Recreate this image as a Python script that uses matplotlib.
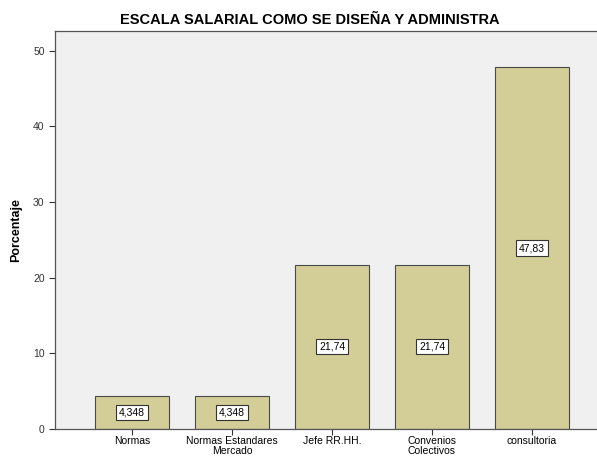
import matplotlib
matplotlib.use("Agg")
import matplotlib.pyplot as plt

plt.rcParams['font.family'] = ['Liberation Sans', 'DejaVu Sans']

categorias = ["Normas", "Normas Estandares\nMercado", "Jefe RR.HH.", "Convenios\nColectivos", "consultoria"]
porcentajes = [4.348, 4.348, 21.74, 21.74, 47.83]
etiquetas = ["4,348", "4,348", "21,74", "21,74", "47,83"]

fig = plt.figure(figsize=(5.97, 4.57), dpi=100)
ax = fig.add_axes([55/597, 1-429/457, (597-55)/597, (429-31)/457])
ax.set_facecolor('#f0f0f0')

x = list(range(len(categorias)))
ax.bar(x, porcentajes, width=0.74, color='#d3ce97', edgecolor='#4a4a4a', linewidth=0.8, zorder=2)

for xi, v, t in zip(x, porcentajes, etiquetas):
    ax.text(xi, v/2, t, ha='center', va='center', fontsize=7.5, zorder=3,
            bbox=dict(boxstyle='square,pad=0.25', fc='white', ec='#333333', lw=0.8))

ax.set_xlim(-0.77, 4.65)
ax.set_ylim(0, 52.6)
ax.set_xticks(x)
ax.set_xticklabels(categorias, fontsize=7.5, linespacing=1.05)
ax.set_yticks([0, 10, 20, 30, 40, 50])
ax.tick_params(axis='both', labelsize=7.5, colors='#333333', length=4, width=0.8)
ax.tick_params(axis='x', labelcolor='black', pad=1.0)

for s in ['left', 'bottom', 'top']:
    ax.spines[s].set_color('#555555')
    ax.spines[s].set_linewidth(0.9)
ax.spines['right'].set_visible(False)

ax.set_ylabel('Porcentaje', fontsize=9, fontweight='bold', labelpad=8)
ax.set_title('ESCALA SALARIAL COMO SE DISEÑA Y ADMINISTRA', fontsize=10.5, fontweight='bold', pad=5, x=(310-55)/542)

fig.savefig('out.png', dpi=100)
